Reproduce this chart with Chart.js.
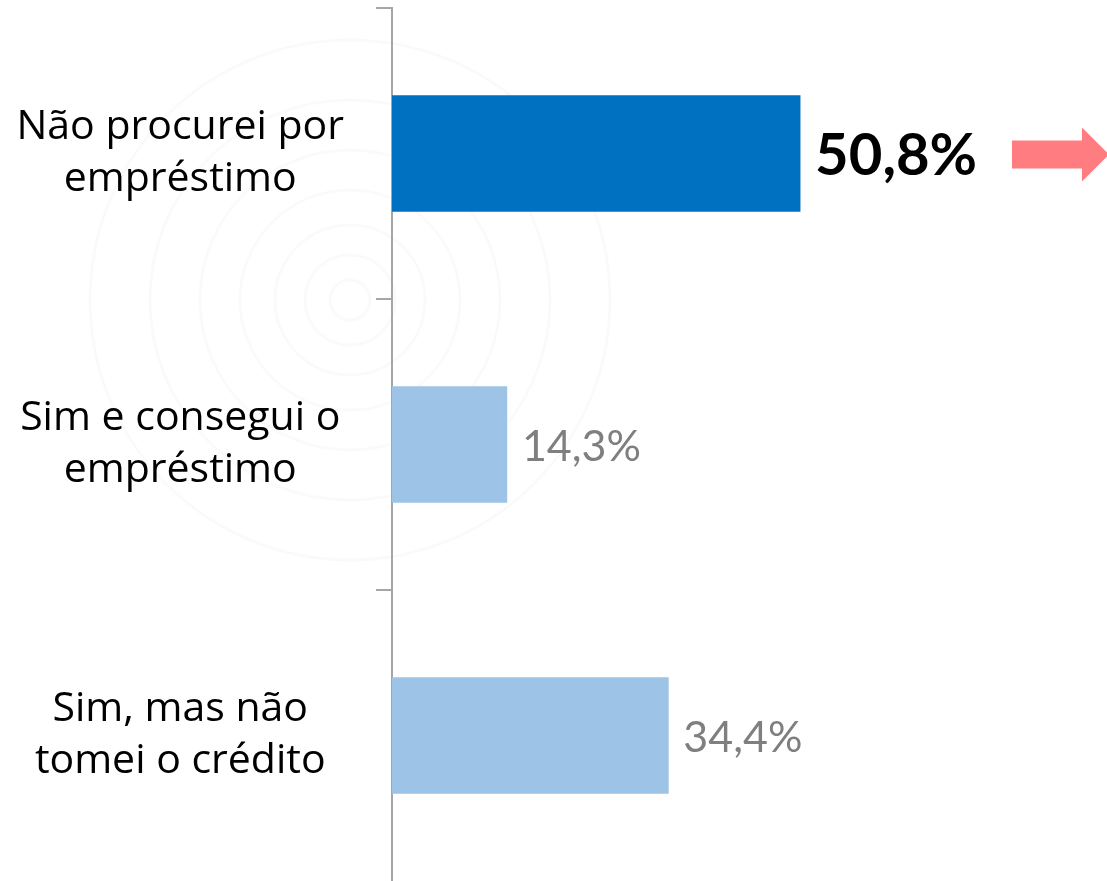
<!DOCTYPE html>
<html>
<head>
<meta charset="utf-8">
<script src="https://cdn.jsdelivr.net/npm/chart.js@4"></script>
<style>
    html, body { margin: 0; padding: 0; background: #ffffff; }
    #wrap { width: 1107px; height: 881px; position: relative; }
</style>
</head>
<body>
<div id="wrap"><canvas id="loan-chart"></canvas></div>
<script>
// Chart data
const categories = [
    ['Não procurei por', 'empréstimo'],
    ['Sim e consegui o', 'empréstimo'],
    ['Sim, mas não', 'tomei o crédito']
];
const shares = [50.8, 14.3, 34.4];
const barColors = ['#0070C0', '#9DC3E6', '#9DC3E6'];
const highlightIndex = 0;

const LABEL_FONT = '"Open Sans", Lato, sans-serif';
const VALUE_FONT = 'Lato, "Open Sans", sans-serif';

// faint watermark circles behind the chart
const backdrop = {
    id: 'backdrop',
    beforeDraw(chart) {
        const ctx = chart.ctx;
        ctx.save();
        ctx.strokeStyle = 'rgba(0, 0, 0, 0.02)';
        ctx.lineWidth = 3;
        [20, 45, 75, 110, 150, 200, 260].forEach(r => {
            ctx.beginPath();
            ctx.arc(350, 300, r, 0, Math.PI * 2);
            ctx.stroke();
        });
        ctx.restore();
    }
};

// value labels next to each bar + arrow on the highlighted one
const valueLabels = {
    id: 'valueLabels',
    afterDatasetsDraw(chart) {
        const ctx = chart.ctx;
        const meta = chart.getDatasetMeta(0);
        ctx.save();
        ctx.textBaseline = 'middle';
        ctx.textAlign = 'left';
        meta.data.forEach((bar, i) => {
            const text = shares[i].toFixed(1).replace('.', ',') + '%';
            if (i === highlightIndex) {
                ctx.font = 'bold 58px ' + VALUE_FONT;
                ctx.fillStyle = '#000000';
            } else {
                ctx.font = '43px ' + VALUE_FONT;
                ctx.fillStyle = '#7F7F7F';
            }
            ctx.fillText(text, bar.x + 15, bar.y + 3);
        });

        // arrow
        const y = meta.data[highlightIndex].y + 1;
        ctx.fillStyle = '#FF7C80';
        ctx.beginPath();
        ctx.moveTo(1012, y - 14);
        ctx.lineTo(1082, y - 14);
        ctx.lineTo(1082, y - 27);
        ctx.lineTo(1109, y);
        ctx.lineTo(1082, y + 27);
        ctx.lineTo(1082, y + 14);
        ctx.lineTo(1012, y + 14);
        ctx.closePath();
        ctx.fill();
        ctx.restore();
    }
};

const ctx = document.getElementById('loan-chart').getContext('2d');
const chart = new Chart(ctx, {
    type: 'bar',
    data: {
        labels: categories,
        datasets: [{
            data: shares,
            backgroundColor: barColors,
            borderWidth: 0,
            barThickness: 116
        }]
    },
    options: {
        indexAxis: 'y',
        responsive: true,
        maintainAspectRatio: false,
        animation: false,
        layout: {
            padding: { top: 8, right: 0, bottom: 0, left: 0 }
        },
        plugins: {
            legend: { display: false },
            tooltip: { enabled: false }
        },
        scales: {
            x: {
                display: false,
                min: 0,
                max: 89
            },
            y: {
                afterFit(scale) {
                    scale.width = 392;
                    scale.paddingTop = 0;
                    scale.paddingBottom = 0;
                },
                grid: {
                    offset: true,
                    drawOnChartArea: false,
                    tickLength: 16,
                    // no tick mark at the very bottom edge
                    color: function(context) {
                        return context.type !== 'tick' ? 'rgba(0,0,0,0)' : '#A6A6A6';
                    },
                    lineWidth: 2
                },
                border: {
                    display: true,
                    color: '#A6A6A6',
                    width: 2
                },
                ticks: {
                    crossAlign: 'center',
                    padding: 32,
                    color: '#000000',
                    font: { family: LABEL_FONT, size: 41, lineHeight: 1.27 }
                }
            }
        }
    },
    plugins: [backdrop, valueLabels]
});
</script>
</body>
</html>
